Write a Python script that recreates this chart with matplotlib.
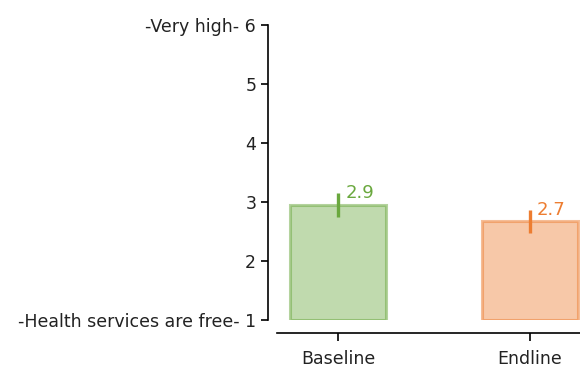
import matplotlib
matplotlib.use("Agg")
import matplotlib.pyplot as plt
import matplotlib.colors as mcolors

categories = ["Baseline", "Endline"]
means = [2.945, 2.67]
errors = [0.20, 0.19]
colors = ["#6aa83e", "#ed7d31"]
ytick_values = [1, 2, 3, 4, 5, 6]
ytick_labels = ["-Health services are free- 1", "2", "3", "4", "5", "-Very high- 6"]

W, H, DPI = 580, 367, 100
fig = plt.figure(figsize=(W / DPI, H / DPI), dpi=DPI)
ax = fig.add_axes([277 / W, (H - 320) / H, (591 - 277) / W, (320 - 25) / H])

x = list(range(len(categories)))
for xi, m, e, c in zip(x, means, errors, colors):
    face = mcolors.to_rgba(c, 0.42)
    edge = mcolors.to_rgba(c, 0.5)
    ax.bar(xi, m - 1, bottom=1, width=0.5, color=face, edgecolor=edge, linewidth=2.2)
    ax.plot([xi, xi], [m - e, m + e], color=c, linewidth=2.4, solid_capstyle="butt")
    ax.annotate(f"{m:.1f}", (xi, m + e), xytext=(5, 0), textcoords="offset points",
                color=c, fontsize=13, ha="left", va="center")

ax.set_xlim(-0.32, 1.32)
ax.set_ylim(1, 6)
ax.set_xticks(x)
ax.set_xticklabels(categories)
ax.set_yticks(ytick_values)
ax.set_yticklabels(ytick_labels)
ax.tick_params(axis="both", length=5, width=1.2, color="black",
               labelcolor="#222222", labelsize=12.5)
ax.tick_params(axis="x", length=6, pad=6)

for side in ("top", "right"):
    ax.spines[side].set_visible(False)
ax.spines["left"].set_position(("outward", 9 * 72 / DPI))
ax.spines["bottom"].set_position(("outward", 13 * 72 / DPI))
ax.spines["left"].set_bounds(1, 6)
ax.spines["left"].set_linewidth(1.2)
ax.spines["bottom"].set_linewidth(1.2)

fig.savefig("out.png", dpi=DPI)
